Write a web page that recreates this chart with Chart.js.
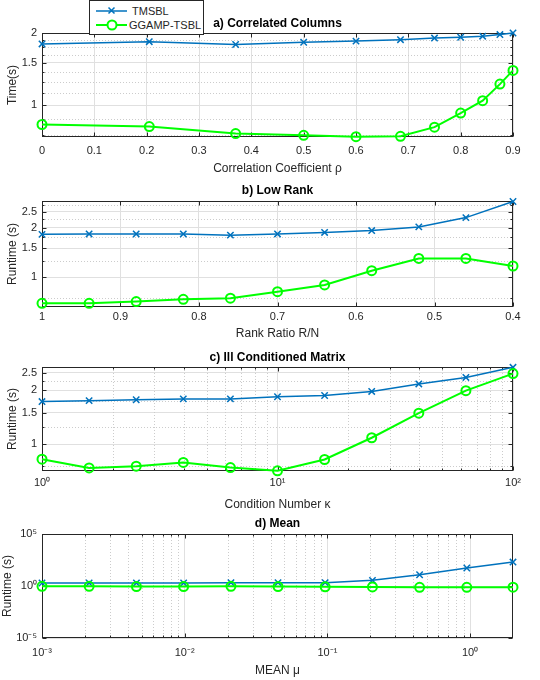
<!DOCTYPE html>
<html>
<head>
<meta charset="utf-8">
<script src="https://cdn.jsdelivr.net/npm/chart.js@4.4.1/dist/chart.umd.min.js"></script>
<style>
  body { margin: 0; background: #fff; width: 540px; height: 680px; position: relative; overflow: hidden; }
  canvas { position: absolute; left: 0; }
  #legend { position: absolute; left: 89px; top: 0; z-index: 5; }
</style>
</head>
<body>
<canvas id="chartA" width="540" height="176" style="top:0px"></canvas>
<canvas id="chartB" width="540" height="168" style="top:176px"></canvas>
<canvas id="chartC" width="540" height="168" style="top:344px"></canvas>
<canvas id="chartD" width="540" height="168" style="top:512px"></canvas>
<svg id="legend" width="115" height="35" font-family="Liberation Sans, Arial, sans-serif" font-size="11">
  <rect x="0.5" y="0.5" width="114" height="34" fill="#fff" stroke="#262626"/>
  <line x1="7" y1="11" x2="38" y2="11" stroke="#0072BD" stroke-width="1.5"/>
  <path d="M19.5 7.5 l6 6 m0 -6 l-6 6" stroke="#0072BD" stroke-width="1.5" fill="none"/>
  <text id="legend0" x="43" y="15" fill="#262626"></text>
  <line x1="7" y1="25" x2="38" y2="25" stroke="#00FF00" stroke-width="2"/>
  <circle cx="23" cy="25" r="4.5" fill="#fff" stroke="#00FF00" stroke-width="2"/>
  <text id="legend1" x="40" y="29" fill="#262626"></text>
</svg>
<script>
// ============================================
// Runtime comparison — four stacked panels
// ============================================

const seriesNames = ['TMSBL', 'GGAMP-TSBL'];

// a) Correlated Columns
const rho = [0, 0.205, 0.37, 0.5, 0.6, 0.685, 0.75, 0.8, 0.842, 0.875, 0.9];
const rhoTmsbl = [1.80, 1.84, 1.79, 1.83, 1.85, 1.875, 1.905, 1.92, 1.94, 1.97, 2.0];
const rhoGgamp = [0.829, 0.813, 0.760, 0.747, 0.737, 0.740, 0.808, 0.925, 1.043, 1.223, 1.395];
const rhoTicks = [0, 0.1, 0.2, 0.3, 0.4, 0.5, 0.6, 0.7, 0.8, 0.9];
const timeTicks = [1, 1.5, 2];
const timeMinor = [0.75, 0.875, 1.125, 1.25, 1.375, 1.625, 1.75, 1.875];

// b) Low Rank
const rankRatio = [1, 0.94, 0.88, 0.82, 0.76, 0.70, 0.64, 0.58, 0.52, 0.46, 0.40];
const rankTmsbl = [1.82, 1.83, 1.83, 1.83, 1.80, 1.83, 1.87, 1.92, 2.02, 2.30, 2.88];
const rankGgamp = [0.695, 0.695, 0.712, 0.735, 0.746, 0.817, 0.898, 1.096, 1.30, 1.30, 1.17];
const rankTicks = [1, 0.9, 0.8, 0.7, 0.6, 0.5, 0.4];

// c) Ill Conditioned Matrix
const kappa = [1, 1.585, 2.512, 3.981, 6.31, 10, 15.85, 25.12, 39.81, 63.1, 100];
const kappaTmsbl = [1.73, 1.75, 1.77, 1.79, 1.79, 1.84, 1.87, 1.97, 2.17, 2.36, 2.69];
const kappaGgamp = [0.823, 0.736, 0.752, 0.789, 0.739, 0.709, 0.820, 1.085, 1.49, 1.99, 2.48];
const kappaTicks = [1, 10, 100];

// d) Mean
const mu = [0.001, 0.00214, 0.00459, 0.00983, 0.0211, 0.0451, 0.0965, 0.207, 0.443, 0.949, 2.0];
const muTmsbl = [1.95, 1.95, 1.95, 1.95, 2.1, 2.1, 2.1, 3.5, 12, 54, 200];
const muGgamp = [0.93, 0.93, 0.88, 0.88, 0.93, 0.88, 0.84, 0.82, 0.74, 0.74, 0.77];
const muTicks = [0.001, 0.01, 0.1, 1];
const muRuntimeTicks = [1e-5, 1, 1e5];

const runtimeTicks = [1, 1.5, 2, 2.5];
const runtimeMinor = [0.75, 1.25, 1.75, 2.25, 2.75];

const FONT = '"Liberation Sans", Arial, Helvetica, sans-serif';
const AXIS_COLOR = '#262626';
const BLUE = '#0072BD';
const GREEN = '#00FF00';

document.getElementById('legend0').textContent = seriesNames[0];
document.getElementById('legend1').textContent = seriesNames[1];

const SUP = { '-': '⁻', '0': '⁰', '1': '¹', '2': '²', '3': '³', '4': '⁴', '5': '⁵', '6': '⁶', '7': '⁷', '8': '⁸', '9': '⁹' };
const plainLabel = v => String(v);
const powLabel = v => '10' + String(Math.round(Math.log10(v))).split('').map(c => SUP[c]).join('');

// minor grid values 2..9 x 10^k inside (lo, hi)
function decadeMinors(lo, hi) {
  const out = [];
  for (let e = Math.floor(Math.log10(lo)); e <= Math.ceil(Math.log10(hi)); e++) {
    for (let m = 2; m <= 9; m++) {
      const v = m * Math.pow(10, e);
      if (v > lo * 1.0001 && v < hi * 0.9999) out.push(v);
    }
  }
  return out;
}

// dotted minor grid, box frame and inward ticks, MATLAB style
const matlabAxes = {
  id: 'matlabAxes',
  beforeDatasetsDraw(chart, args, opts) {
    const { ctx, chartArea: a, scales: { x, y } } = chart;
    const L = a.left + 0.5, R = a.right - 0.5, T = a.top + 0.5, B = a.bottom - 0.5;
    const seg = (x1, y1, x2, y2) => { ctx.beginPath(); ctx.moveTo(x1, y1); ctx.lineTo(x2, y2); ctx.stroke(); };
    const xPx = v => Math.round(x.getPixelForValue(v)) + 0.5;
    const yPx = v => Math.round(y.getPixelForValue(v)) + 0.5;
    const xMinor = opts.xMinor || [];
    const yMinor = opts.yMinor || [];

    ctx.save();
    ctx.lineWidth = 1;
    ctx.strokeStyle = '#cccccc';
    ctx.setLineDash([1, 2]);
    xMinor.forEach(v => { const p = xPx(v); seg(p, a.top, p, a.bottom); });
    yMinor.forEach(v => { const p = yPx(v); seg(a.left, p, a.right, p); });
    ctx.setLineDash([]);

    ctx.strokeStyle = AXIS_COLOR;
    ctx.strokeRect(L, T, R - L, B - T);
    const tickX = (v, len) => { const p = xPx(v); seg(p, B, p, B - len); seg(p, T, p, T + len); };
    const tickY = (v, len) => { const p = yPx(v); seg(L, p, L + len, p); seg(R, p, R - len, p); };
    x.ticks.forEach(t => tickX(t.value, 4));
    y.ticks.forEach(t => tickY(t.value, 4));
    xMinor.forEach(v => tickX(v, 2));
    yMinor.forEach(v => tickY(v, 2));
    ctx.restore();
  },
};

// page-coordinate layout for each panel
const panels = [
  {
    id: 'chartA', top: 0, height: 176, areaTop: 33, areaBottom: 137,
    titleY: 23.3, tickY: 151, xTitleY: 169, yTitleX: 12.5,
    title: 'a) Correlated Columns', xLabel: 'Correlation Coefficient ρ', yLabel: 'Time(s)',
    xType: 'linear', xMin: 0, xMax: 0.9, xTicks: rhoTicks, xFmt: plainLabel, xMinor: [],
    yType: 'logarithmic', yMin: 0.735, yMax: 2.0, yTicks: timeTicks, yFmt: plainLabel, yMinor: timeMinor,
    xs: rho, s1: rhoTmsbl, s2: rhoGgamp,
  },
  {
    id: 'chartB', top: 176, height: 168, areaTop: 201, areaBottom: 307,
    titleY: 190.5, tickY: 316.7, xTitleY: 334, yTitleX: 12.3,
    title: 'b) Low Rank', xLabel: 'Rank Ratio R/N', yLabel: 'Runtime (s)',
    xType: 'linear', xMin: 0.4, xMax: 1, xReverse: true, xTicks: rankTicks, xFmt: plainLabel, xMinor: [],
    yType: 'logarithmic', yMin: 0.66, yMax: 2.9, yTicks: runtimeTicks, yFmt: plainLabel, yMinor: runtimeMinor,
    xs: rankRatio, s1: rankTmsbl, s2: rankGgamp,
  },
  {
    id: 'chartC', top: 344, height: 168, areaTop: 367, areaBottom: 471,
    titleY: 357.3, tickY: 483, xTitleY: 505, yTitleX: 12.3,
    title: 'c) Ill Conditioned Matrix', xLabel: 'Condition Number κ', yLabel: 'Runtime (s)',
    xType: 'logarithmic', xMin: 1, xMax: 100, xTicks: kappaTicks, xFmt: powLabel, xMinor: decadeMinors(1, 100),
    yType: 'logarithmic', yMin: 0.707, yMax: 2.70, yTicks: runtimeTicks, yFmt: plainLabel, yMinor: runtimeMinor.filter(v => v < 2.7),
    xs: kappa, s1: kappaTmsbl, s2: kappaGgamp,
  },
  {
    id: 'chartD', top: 512, height: 168, areaTop: 534, areaBottom: 638,
    titleY: 523.3, tickY: 653, xTitleY: 671, yTitleX: 7.2,
    title: 'd) Mean', xLabel: 'MEAN μ', yLabel: 'Runtime (s)',
    xType: 'logarithmic', xMin: 0.001, xMax: 2, xTicks: muTicks, xFmt: powLabel, xMinor: decadeMinors(0.001, 2),
    yType: 'logarithmic', yMin: 1e-5, yMax: 1e5, yTicks: muRuntimeTicks, yFmt: powLabel, yMinor: [],
    xs: mu, s1: muTmsbl, s2: muGgamp,
  },
];

const AXIS_LEFT = 42;
const AXIS_RIGHT = 513;
const TITLE_LH = 12 * 1.2;
const TICK_LH = 11 * 1.2;

function pts(xs, ys) {
  return xs.map((x, i) => ({ x, y: ys[i] }));
}

function renderPanel(p) {
  const rel = v => v - p.top;
  const titleTop = rel(p.titleY) - TITLE_LH / 2;
  const titleBottom = rel(p.areaTop) - titleTop - TITLE_LH;
  const xBoxHeight = p.height - rel(p.areaBottom);
  const xTickPad = rel(p.tickY) - rel(p.areaBottom) - TICK_LH / 2;
  const xTitlePad = Math.max(0, p.height - rel(p.xTitleY) - TITLE_LH / 2);
  const yTitlePad = Math.max(0, p.yTitleX - TITLE_LH / 2);

  const tickFont = { family: FONT, size: 11 };
  const labelFont = { family: FONT, size: 12 };

  return new Chart(document.getElementById(p.id), {
    type: 'line',
    data: {
      datasets: [
        {
          label: seriesNames[0],
          data: pts(p.xs, p.s1),
          borderColor: BLUE,
          backgroundColor: BLUE,
          borderWidth: 1.5,
          pointStyle: 'crossRot',
          pointRadius: 4.5,
          pointBorderWidth: 1.5,
          pointBorderColor: BLUE,
          clip: false,
          order: 1,
        },
        {
          label: seriesNames[1],
          data: pts(p.xs, p.s2),
          borderColor: GREEN,
          backgroundColor: GREEN,
          borderWidth: 2,
          pointStyle: 'circle',
          pointRadius: 4.5,
          pointBorderWidth: 2,
          pointBorderColor: GREEN,
          pointBackgroundColor: 'rgba(255,255,255,0)',
          clip: false,
          order: 0,
        },
      ],
    },
    options: {
      responsive: false,
      animation: false,
      events: [],
      layout: { padding: { left: 0, right: 540 - AXIS_RIGHT, top: 0, bottom: 0 } },
      plugins: {
        legend: { display: false },
        tooltip: { enabled: false },
        title: {
          display: true,
          fullSize: false,
          text: p.title,
          color: '#000',
          font: { family: FONT, size: 12, weight: 'bold' },
          padding: { top: titleTop, bottom: titleBottom },
        },
        matlabAxes: { xMinor: p.xMinor, yMinor: p.yMinor },
      },
      scales: {
        x: {
          type: p.xType,
          min: p.xMin,
          max: p.xMax,
          reverse: !!p.xReverse,
          bounds: 'data',
          afterBuildTicks: s => { s.ticks = p.xTicks.map(v => ({ value: v })); },
          afterFit: s => { s.height = xBoxHeight; },
          ticks: {
            autoSkip: false,
            maxRotation: 0,
            padding: xTickPad,
            color: AXIS_COLOR,
            font: tickFont,
            callback: v => p.xFmt(v),
          },
          grid: { color: '#e0e0e0', lineWidth: 1, drawTicks: false },
          border: { display: false },
          title: {
            display: true,
            text: p.xLabel,
            color: AXIS_COLOR,
            font: labelFont,
            padding: { top: 0, bottom: xTitlePad },
          },
        },
        y: {
          type: p.yType,
          min: p.yMin,
          max: p.yMax,
          bounds: 'data',
          afterBuildTicks: s => { s.ticks = p.yTicks.map(v => ({ value: v })); },
          afterFit: s => { s.width = AXIS_LEFT; },
          ticks: {
            autoSkip: false,
            padding: 5,
            color: AXIS_COLOR,
            font: tickFont,
            callback: v => p.yFmt(v),
          },
          grid: { color: '#e0e0e0', lineWidth: 1, drawTicks: false },
          border: { display: false },
          title: {
            display: true,
            text: p.yLabel,
            color: AXIS_COLOR,
            font: labelFont,
            padding: { top: yTitlePad, bottom: 0 },
          },
        },
      },
    },
    plugins: [matlabAxes],
  });
}

panels.forEach(renderPanel);
</script>
</body>
</html>
